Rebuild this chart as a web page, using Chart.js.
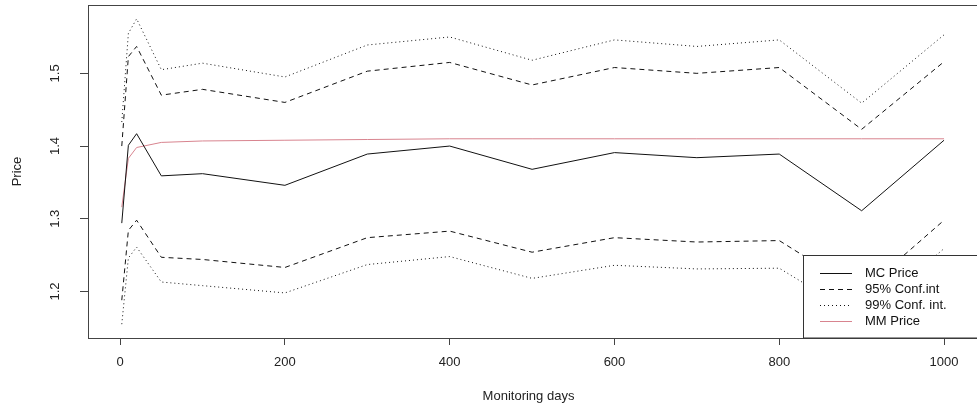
<!DOCTYPE html>
<html>
<head>
<meta charset="utf-8">
<script src="https://cdn.jsdelivr.net/npm/chart.js@4/dist/chart.umd.min.js"></script>
<style>
  html, body { margin: 0; padding: 0; background: #fff; }
  canvas { display: block; }
</style>
</head>
<body>
<canvas id="priceChart" width="977" height="411"></canvas>
<script>
// monitoring days and series
const days = [2, 10, 20, 50, 100, 200, 300, 400, 500, 600, 700, 800, 900, 1000];
const mcPrice = [1.294, 1.401, 1.417, 1.359, 1.362, 1.346, 1.389, 1.400, 1.368, 1.391, 1.384, 1.389, 1.311, 1.408];
const ci95Upper = [1.400, 1.523, 1.537, 1.470, 1.478, 1.460, 1.503, 1.515, 1.484, 1.508, 1.500, 1.508, 1.423, 1.516];
const ci95Lower = [1.188, 1.284, 1.298, 1.247, 1.244, 1.233, 1.274, 1.283, 1.254, 1.274, 1.268, 1.270, 1.199, 1.298];
const ci99Upper = [1.433, 1.555, 1.575, 1.505, 1.514, 1.495, 1.539, 1.550, 1.518, 1.546, 1.537, 1.546, 1.459, 1.553];
const ci99Lower = [1.155, 1.246, 1.261, 1.213, 1.208, 1.198, 1.237, 1.248, 1.218, 1.236, 1.231, 1.232, 1.163, 1.259];
const mmPrice = [1.316, 1.383, 1.398, 1.405, 1.407, 1.408, 1.409, 1.410, 1.410, 1.410, 1.410, 1.410, 1.410, 1.410];

const xTicks = [0, 200, 400, 600, 800, 1000];
const yTicks = [1.2, 1.3, 1.4, 1.5];

const FONT = '"Liberation Sans", Arial, sans-serif';
const MM_COLOR = '#d8848f';

const toPoints = vals => vals.map((v, i) => ({ x: days[i], y: v }));

const line = (label, vals, color, dash) => ({
  label: label,
  data: toPoints(vals),
  borderColor: color,
  borderWidth: 1,
  borderDash: dash,
  pointRadius: 0,
  fill: false,
  tension: 0
});

// R style frame, rotated y labels, axis titles and legend box
const rFrame = {
  id: 'rFrame',
  afterDraw(chart) {
    const ctx = chart.ctx;
    const a = chart.chartArea;
    const yScale = chart.scales.y;
    ctx.save();
    ctx.strokeStyle = '#444';
    ctx.lineWidth = 1;
    ctx.strokeRect(a.left + 0.5, a.top + 0.5, a.right - a.left, a.bottom - a.top);

    ctx.fillStyle = '#222';
    ctx.font = '13px ' + FONT;
    ctx.textAlign = 'center';
    ctx.textBaseline = 'middle';
    yTicks.forEach(v => {
      const py = yScale.getPixelForValue(v);
      ctx.save();
      ctx.translate(55, py);
      ctx.rotate(-Math.PI / 2);
      ctx.fillText(v.toFixed(1), 0, 0);
      ctx.restore();
    });

    ctx.fillText('Monitoring days', (a.left + a.right) / 2 - 4, 396);
    ctx.save();
    ctx.translate(17, (a.top + a.bottom) / 2);
    ctx.rotate(-Math.PI / 2);
    ctx.fillText('Price', 0, 0);
    ctx.restore();

    // legend
    const lx = 803.5, ly = 255.5;
    ctx.fillStyle = '#fff';
    ctx.fillRect(lx, ly, 200, a.bottom - ly);
    ctx.strokeStyle = '#333';
    ctx.strokeRect(lx, ly, 200, a.bottom - ly);
    ctx.textAlign = 'left';
    ctx.fillStyle = '#111';
    chart.data.datasets.filter(d => d.legend !== false).forEach((d, i) => {
      const ry = 273.5 + i * 16;
      ctx.beginPath();
      ctx.setLineDash(d.borderDash || []);
      ctx.strokeStyle = d.borderColor;
      ctx.moveTo(820, ry);
      ctx.lineTo(852, ry);
      ctx.stroke();
      ctx.setLineDash([]);
      ctx.fillText(d.label, 865, ry);
    });
    ctx.restore();
  }
};

const lower95 = line('95% Conf.int', ci95Lower, '#111', [5, 4]);
lower95.legend = false;
const lower99 = line('99% Conf. int.', ci99Lower, '#111', [1, 3]);
lower99.legend = false;

new Chart(document.getElementById('priceChart'), {
  type: 'line',
  data: {
    datasets: [
      line('MC Price', mcPrice, '#111', []),
      line('95% Conf.int', ci95Upper, '#111', [5, 4]),
      line('99% Conf. int.', ci99Upper, '#111', [1, 3]),
      line('MM Price', mmPrice, MM_COLOR, []),
      lower95,
      lower99
    ]
  },
  options: {
    responsive: false,
    animation: false,
    devicePixelRatio: 1,
    layout: { padding: { top: 5, left: 0, right: 0, bottom: 0 } },
    plugins: {
      legend: { display: false },
      tooltip: { enabled: false }
    },
    scales: {
      x: {
        type: 'linear',
        min: -39,
        max: 1040,
        afterBuildTicks: scale => { scale.ticks = xTicks.map(v => ({ value: v })); },
        afterFit: scale => {
          scale.height = 73;
          scale.paddingLeft = 0;
          scale.paddingRight = 0;
        },
        grid: { drawOnChartArea: false, drawTicks: true, tickLength: 7, color: '#444' },
        border: { display: false },
        ticks: {
          color: '#222',
          font: { family: FONT, size: 13 },
          padding: 10,
          maxRotation: 0,
          callback: v => String(v)
        }
      },
      y: {
        type: 'linear',
        min: 1.136,
        max: 1.594,
        afterBuildTicks: scale => { scale.ticks = yTicks.map(v => ({ value: v })); },
        afterFit: scale => {
          scale.width = 88;
          scale.paddingTop = 0;
          scale.paddingBottom = 0;
        },
        grid: { drawOnChartArea: false, drawTicks: true, tickLength: 8, color: '#444' },
        border: { display: false },
        ticks: { color: 'rgba(0,0,0,0)', font: { family: FONT, size: 13 } }
      }
    }
  },
  plugins: [rFrame]
});
</script>
</body>
</html>
